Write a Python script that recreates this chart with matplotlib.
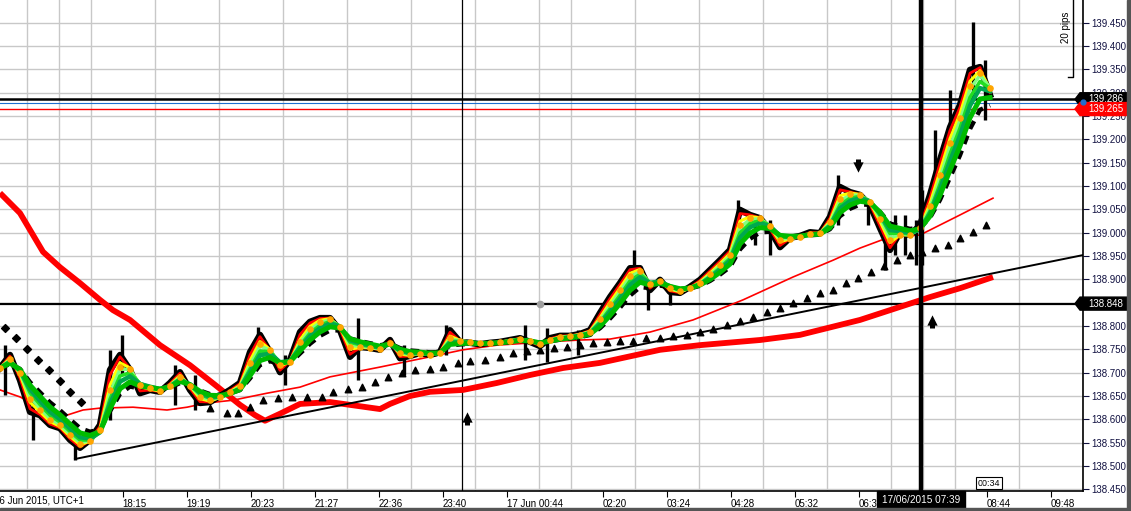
import matplotlib
matplotlib.use("Agg")
import matplotlib.pyplot as plt
import numpy as np
import pandas as pd
from matplotlib.ticker import MultipleLocator, FuncFormatter
from matplotlib.patches import Rectangle, Polygon
import matplotlib.transforms as mtrans

plt.rcParams["font.family"] = ["Liberation Sans", "DejaVu Sans"]

# ------------------------------------------------------------------ data
# one-minute bars, x = bar index; closes sampled every 10 bars
bar_idx = list(range(0, 1000, 10))
close = [138.710, 138.738, 138.684, 138.616, 138.609, 138.588, 138.581, 138.556, 138.539, 138.556,
         138.588, 138.706, 138.738, 138.706, 138.656, 138.663, 138.659, 138.678, 138.701, 138.663,
         138.635, 138.637, 138.650, 138.663, 138.678, 138.744, 138.781, 138.744, 138.701, 138.727,
         138.787, 138.809, 138.817, 138.817, 138.791, 138.734, 138.755, 138.753, 138.749, 138.770,
         138.731, 138.736, 138.742, 138.738, 138.744, 138.791, 138.766, 138.764, 138.761, 138.764,
         138.766, 138.770, 138.774, 138.766, 138.757, 138.774, 138.779, 138.779, 138.783, 138.791,
         138.828, 138.862, 138.892, 138.924, 138.924, 138.877, 138.899, 138.873, 138.871, 138.884,
         138.899, 138.920, 138.941, 138.963, 139.049, 139.038, 139.031, 139.006, 138.969, 138.989,
         138.993, 139.001, 138.999, 139.034, 139.098, 139.087, 139.081, 139.059, 139.010, 138.963,
         139.001, 138.995, 139.016, 139.081, 139.156, 139.226, 139.274, 139.349, 139.355, 139.295]

# wick extremes (bar, low, high)
spike_bar = [5, 33, 75, 110, 122, 175, 195, 258, 285, 358, 404, 446, 525, 547, 578,
             634, 648, 670, 738, 755, 770, 838, 868, 885, 895, 905, 916, 922, 935, 950, 973, 985]
spike_low = [138.652, 138.556, 138.513, 138.599, 138.695, 138.631, 138.620, 138.727, 138.674, 138.684,
             138.695, 138.738, 138.727, 138.723, 138.738, 138.877, 138.834, 138.845, 139.006, 138.974,
             138.952, 139.016, 139.016, 138.920, 138.952, 138.952, 138.931, 138.931, 139.070, 139.156,
             139.284, 139.241]
spike_high = [138.759, 138.641, 138.577, 138.749, 138.781, 138.716, 138.695, 138.798, 138.738, 138.817,
              138.759, 138.802, 138.802, 138.796, 138.791, 138.963, 138.899, 138.888, 139.070, 139.038,
              139.027, 139.124, 139.070, 138.984, 139.038, 139.038, 139.027, 139.091, 139.220, 139.306,
              139.451, 139.370]

# slow moving average (thick red)
slow_bar = [0, 20, 30, 43, 60, 80, 100, 113, 130, 160, 190, 215, 240, 255, 265, 280, 300, 330, 350,
            380, 390, 410, 430, 463, 497, 530, 563, 600, 660, 700, 760, 800, 860, 900, 930, 960, 993]
slow_ma = [139.085, 139.042, 139.006, 138.959, 138.926, 138.892, 138.856, 138.834, 138.813, 138.759,
           138.716, 138.674, 138.631, 138.609, 138.597, 138.612, 138.633, 138.637, 138.631, 138.622,
           138.633, 138.650, 138.659, 138.663, 138.678, 138.695, 138.710, 138.721, 138.749, 138.759,
           138.770, 138.781, 138.813, 138.841, 138.862, 138.881, 138.905]

# medium moving average (thin red)
mid_bar = [0, 20, 40, 67, 83, 100, 133, 167, 187, 207, 233, 267, 300, 330, 380, 430, 463, 497, 547,
           580, 610, 650, 693, 743, 793, 833, 860, 890, 920, 960, 993]
mid_ma = [138.663, 138.648, 138.626, 138.609, 138.620, 138.624, 138.626, 138.620, 138.626, 138.635,
          138.641, 138.656, 138.669, 138.691, 138.712, 138.734, 138.749, 138.759, 138.766, 138.770,
          138.772, 138.787, 138.813, 138.856, 138.905, 138.941, 138.967, 138.991, 138.995, 139.038,
          139.074]

# stop-and-reverse dots
sar_dn_bar = [5, 16, 27, 38, 49, 60, 70, 81]
sar_dn = [138.796, 138.774, 138.751, 138.727, 138.706, 138.682, 138.659, 138.637]
sar_up_bar = [210, 227, 238, 250, 263, 278, 292, 307, 322, 333, 348, 362, 375, 388, 402, 415, 430,
              443, 458, 470, 485, 500, 513, 527, 540, 554, 567, 580, 593, 607, 620, 633, 646, 660,
              673, 687, 700, 713, 727, 740, 753, 767, 780, 793, 807, 820, 833, 846, 858, 871, 884,
              897, 910, 922, 935, 948, 960, 973, 986]
sar_up = [138.624, 138.614, 138.614, 138.626, 138.641, 138.646, 138.648, 138.648, 138.648, 138.659,
          138.665, 138.669, 138.680, 138.691, 138.699, 138.706, 138.708, 138.712, 138.721, 138.725,
          138.727, 138.734, 138.742, 138.747, 138.749, 138.753, 138.755, 138.759, 138.764, 138.766,
          138.768, 138.768, 138.774, 138.774, 138.779, 138.781, 138.787, 138.794, 138.802, 138.811,
          138.819, 138.830, 138.839, 138.849, 138.860, 138.871, 138.877, 138.892, 138.903, 138.916,
          138.929, 138.941, 138.952, 138.959, 138.967, 138.974, 138.989, 139.001, 139.016]

# horizontal levels and trend line
support = 138.848
ask_line = 139.286
mid_line = 139.279
bid_line = 139.265
trend_bar = [75, 1083]
trend_px = [138.515, 138.952]

# signal arrows
up_arrow_bar = [467, 932]
up_arrow_px = [138.601, 138.809]
dn_arrow_bar = [858]
dn_arrow_px = [139.145]

# time axis
tick_bar = [122.7, 186.7, 250.7, 314.7, 378.7, 442.7, 506.7, 602.7, 666.7, 730.7, 794.7,
            858.7, 986.7, 1050.7]
tick_lbl = ["18:15", "19:19", "20:23", "21:27", "22:36", "23:40",
            "17 Jun 00:44", "02:20", "03:24", "04:28", "05:32", "06:36", "08:44", "09:48"]
first_lbl = "16 Jun 2015, UTC+1"
cursor_bar = 921
cursor_lbl = "17/06/2015 07:39"
marker_bar = 462
last_bar = 989
countdown = "00:34"

# ------------------------------------------------------------------ figure
W, H = 1131, 511
PR, PB = 1083, 491
FS = 7.0
fig = plt.figure(figsize=(W / 100, H / 100), dpi=100, facecolor="white")
ax = fig.add_axes([0, (H - PB) / H, PR / W, PB / H])
ax.set_xlim(0, PR)
ax.set_ylim(138.4464, 139.4987)

for s in ["top", "left"]:
    ax.spines[s].set_visible(False)
ax.spines["right"].set_color("black")
ax.spines["bottom"].set_color("black")
ax.spines["right"].set_linewidth(1.2)
ax.spines["bottom"].set_linewidth(1.2)


def price_fmt(v, pos):
    # the support tag sits on top of this scale value
    if abs(v - 138.85) < 1e-6:
        return ""
    return f"{v:.3f}"


ax.yaxis.tick_right()
ax.yaxis.set_major_locator(MultipleLocator(0.05))
ax.yaxis.set_major_formatter(FuncFormatter(price_fmt))
ax.tick_params(axis="y", direction="out", length=4, pad=2, labelsize=FS, colors="#101040")
ax.xaxis.set_minor_locator(MultipleLocator(32, offset=26.7))
ax.grid(True, which="major", axis="y", color="#c8c8c8", linewidth=1, zorder=0)
ax.grid(True, which="minor", axis="x", color="#c8c8c8", linewidth=1, zorder=0)
ax.set_xticks(tick_bar)
ax.set_xticklabels(tick_lbl)
ax.tick_params(axis="x", which="major", direction="out", length=4, pad=2, labelsize=FS)
ax.tick_params(axis="x", which="minor", length=0)
for lb in ax.get_xticklabels():
    lb.set_horizontalalignment("left")
trx = mtrans.blended_transform_factory(ax.transData, ax.transAxes)
ax.text(-6, -0.0085, first_lbl, transform=trx, ha="left", va="top", fontsize=FS, clip_on=False)

x = np.array(bar_idx)
cs = pd.Series(close)

# long averages and trend
ax.plot(slow_bar, slow_ma, color="#ff0000", lw=4.2, zorder=3, solid_capstyle="butt")
ax.plot(mid_bar, mid_ma, color="#ff0000", lw=1.2, zorder=3)
ax.plot(trend_bar, trend_px, color="black", lw=1.4, zorder=3)
ax.scatter(sar_dn_bar, sar_dn, marker="D", s=16, color="black", zorder=4)
ax.scatter(sar_up_bar, sar_up, marker="^", s=22, color="black", zorder=4)

# price bars
ax.vlines(spike_bar, spike_low, spike_high, color="black", lw=2.4, zorder=4)
ax.plot(x, close, color="black", lw=4.6, zorder=4)
ax.plot(x, cs.ewm(span=5.5, adjust=False).mean(), color="black", lw=3.2,
        ls=(0, (2, 1.6)), zorder=4)
ax.plot(x, cs.ewm(span=4.5, adjust=False).mean(), color="#ff0000", lw=0.9, zorder=5)

# ribbon
ribbon = [("#ff0000", 1.2, 2.0), ("#ffff00", 1.7, 2.2), ("#80ff80", 2.2, 2.4),
          ("#22dd22", 2.8, 2.6), ("#00a850", 3.4, 3.2), ("#00bb00", 4.4, 3.6)]
for col, span, lw in ribbon:
    ax.plot(x, cs.ewm(span=span, adjust=False).mean(), color=col, lw=lw, zorder=5)
ax.scatter(x, cs.ewm(span=2.0, adjust=False).mean(), s=14, color="#ffa500", zorder=6)

# levels
ax.axhline(support, color="black", lw=1.6, zorder=2)
ax.axhline(ask_line, color="black", lw=1.8, zorder=2)
ax.axhline(mid_line, color="#1f6fd0", lw=0.8, zorder=2)
ax.axhline(bid_line, color="#ff0000", lw=1.0, zorder=2)
ax.scatter([540], [support], s=20, color="#a0a0a0", zorder=3)

ax.axvline(marker_bar, color="black", lw=0.9, zorder=2)
ax.axvline(cursor_bar, color="black", lw=3.2, zorder=7)

# block arrows: head marker plus a short shaft
for b, p in zip(up_arrow_bar, up_arrow_px):
    ax.scatter([b], [p + 0.004], marker="^", s=55, color="black", zorder=8, linewidths=0)
    ax.vlines([b], p - 0.013, p + 0.002, color="black", lw=3.6, zorder=8)
for b, p in zip(dn_arrow_bar, dn_arrow_px):
    ax.scatter([b], [p - 0.004], marker="v", s=55, color="black", zorder=8, linewidths=0)
    ax.vlines([b], p - 0.002, p + 0.013, color="black", lw=3.6, zorder=8)

# 20 pips ruler
ax.plot([1073, 1073, 1068], [139.55, 139.334, 139.334], color="black", lw=1, clip_on=False, zorder=8)
ax.text(1066, 139.44, "20 pips", rotation=90, ha="center", va="center", fontsize=FS, zorder=8)

# price tags on the right scale
tr = mtrans.blended_transform_factory(ax.transAxes, ax.transData)
px_x = 1 / PR
px_y = (139.4987 - 138.4464) / PB
for p, fc in [(ask_line, "black"), (bid_line, "#ff0000"), (support, "black")]:
    x0, x1 = 1 - 3 * px_x, 1 + 44 * px_x
    h = 6.5 * px_y
    tag = Polygon([(x0 - 5 * px_x, p), (x0, p + h), (x1, p + h), (x1, p - h), (x0, p - h)],
                  closed=True, transform=tr, fc=fc, ec=fc, clip_on=False, zorder=10)
    ax.add_patch(tag)
    ax.text(1 + 5 * px_x, p, f"{p:.3f}", transform=tr, ha="left", va="center", fontsize=FS,
            color="white", clip_on=False, zorder=11)
ax.scatter([1.0], [ask_line - 0.006], transform=tr, s=12, color="#1f6fd0", clip_on=False, zorder=12)

# cursor time tag and countdown
ax.text(cursor_bar, -0.019, cursor_lbl, transform=trx, ha="center", va="center", fontsize=7.2,
        color="white", clip_on=False, zorder=10,
        bbox=dict(boxstyle="square,pad=0.45", fc="black", ec="black"))
ax.text(last_bar, 0.016, countdown, transform=trx, ha="center", va="center", fontsize=6.4,
        color="black", zorder=10,
        bbox=dict(boxstyle="square,pad=0.2", fc="white", ec="black", lw=0.8))

# window frame
fig.patches.append(Rectangle((0, 0), 1, 3 / H, transform=fig.transFigure, color="#555555"))
fig.patches.append(Rectangle((1 - 4 / W, 0), 4 / W, 1, transform=fig.transFigure, color="#555555"))

fig.savefig("out.png", dpi=100, facecolor="white")
